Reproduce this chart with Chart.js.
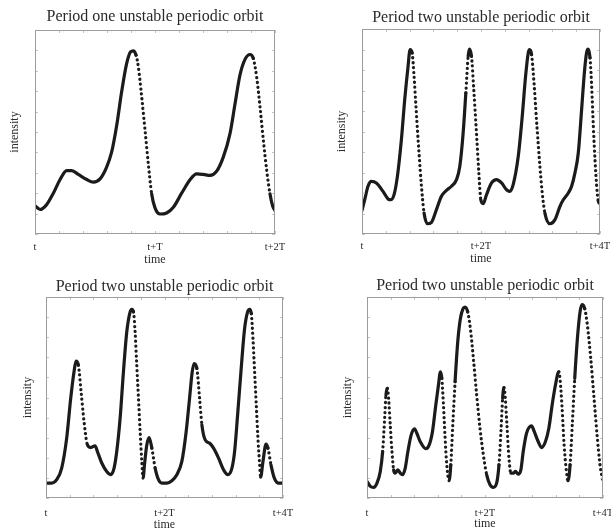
<!DOCTYPE html>
<html>
<head>
<meta charset="utf-8">
<script src="https://cdn.jsdelivr.net/npm/chart.js@4"></script>
<style>
  html, body { margin: 0; padding: 0; background: #fff; }
  #wrap { position: relative; width: 611px; height: 531px; overflow: hidden; }
  #wrap canvas { position: absolute; left: 0; top: 0; }
</style>
</head>
<body>
<div id="wrap">
  <canvas id="c1" width="611" height="531"></canvas>
  <canvas id="c2" width="611" height="531"></canvas>
  <canvas id="c3" width="611" height="531"></canvas>
  <canvas id="c4" width="611" height="531"></canvas>
</div>
<script>
// ---- data (time in units of T, intensity 0..1 of the frame height) ----
const titles = [
  'Period one unstable periodic orbit',
  'Period two unstable periodic orbit',
  'Period two unstable periodic orbit',
  'Period two unstable periodic orbit'
];
const xTitle = 'time';
const yTitle = 'intensity';
const tickLabels1 = { 0: 't', 1: 't+T', 2: 't+2T' };
const tickLabels2 = { 0: 't', 2: 't+2T', 4: 't+4T' };

const p1Time = [0.000, 0.042, 0.097, 0.153, 0.208, 0.264, 0.306, 0.361, 0.431, 0.486, 0.542, 0.597, 0.639, 0.681, 0.722, 0.764, 0.797, 0.819, 0.842, 0.861, 0.889, 0.917, 0.944, 0.972, 1.000, 1.042, 1.097, 1.153, 1.222, 1.292, 1.347, 1.403, 1.458, 1.514, 1.569, 1.625, 1.667, 1.708, 1.750, 1.792, 1.819, 1.847, 1.875, 1.903, 1.931, 1.958, 1.981, 2.000];
const p1Level = [0.139, 0.120, 0.144, 0.200, 0.266, 0.311, 0.311, 0.292, 0.267, 0.254, 0.270, 0.328, 0.402, 0.533, 0.697, 0.836, 0.893, 0.898, 0.877, 0.820, 0.672, 0.508, 0.344, 0.197, 0.128, 0.098, 0.103, 0.131, 0.200, 0.266, 0.295, 0.292, 0.287, 0.308, 0.377, 0.492, 0.639, 0.779, 0.856, 0.880, 0.861, 0.770, 0.623, 0.459, 0.311, 0.197, 0.136, 0.115];

const p2Time = [0.000, 0.045, 0.101, 0.157, 0.241, 0.353, 0.438, 0.482, 0.539, 0.595, 0.662, 0.718, 0.774, 0.808, 0.842, 0.875, 0.914, 0.954, 0.999, 1.043, 1.100, 1.167, 1.251, 1.335, 1.419, 1.504, 1.588, 1.644, 1.700, 1.745, 1.784, 1.806, 1.840, 1.879, 1.924, 1.964, 1.997, 2.036, 2.093, 2.177, 2.261, 2.345, 2.429, 2.485, 2.541, 2.626, 2.693, 2.749, 2.794, 2.816, 2.850, 2.895, 2.940, 2.990, 3.029, 3.074, 3.158, 3.243, 3.327, 3.383, 3.467, 3.523, 3.579, 3.635, 3.691, 3.747, 3.792, 3.832, 3.860, 3.888, 3.916, 3.944, 3.972, 4.000];
const p2Level = [0.115, 0.167, 0.233, 0.257, 0.249, 0.208, 0.171, 0.167, 0.192, 0.281, 0.460, 0.655, 0.818, 0.899, 0.883, 0.769, 0.590, 0.411, 0.233, 0.102, 0.050, 0.057, 0.119, 0.184, 0.213, 0.233, 0.265, 0.330, 0.493, 0.688, 0.867, 0.902, 0.867, 0.704, 0.493, 0.298, 0.167, 0.148, 0.192, 0.249, 0.265, 0.249, 0.216, 0.208, 0.241, 0.379, 0.574, 0.769, 0.883, 0.899, 0.875, 0.720, 0.525, 0.330, 0.200, 0.102, 0.050, 0.070, 0.135, 0.167, 0.200, 0.233, 0.298, 0.395, 0.607, 0.818, 0.902, 0.859, 0.720, 0.525, 0.363, 0.233, 0.159, 0.148];

const p3Time = [0.000, 0.096, 0.180, 0.265, 0.349, 0.417, 0.473, 0.507, 0.546, 0.592, 0.642, 0.699, 0.755, 0.828, 0.868, 0.941, 1.025, 1.093, 1.149, 1.194, 1.251, 1.307, 1.363, 1.420, 1.448, 1.476, 1.504, 1.532, 1.561, 1.589, 1.617, 1.639, 1.662, 1.701, 1.741, 1.786, 1.842, 1.899, 1.955, 2.039, 2.124, 2.208, 2.293, 2.366, 2.423, 2.468, 2.501, 2.546, 2.592, 2.631, 2.687, 2.761, 2.828, 2.913, 2.997, 3.070, 3.138, 3.183, 3.234, 3.290, 3.352, 3.403, 3.437, 3.465, 3.493, 3.521, 3.549, 3.577, 3.606, 3.623, 3.662, 3.713, 3.746, 3.797, 3.854, 3.927, 4.000];
const p3Level = [0.074, 0.074, 0.091, 0.149, 0.298, 0.496, 0.628, 0.681, 0.661, 0.529, 0.380, 0.264, 0.251, 0.260, 0.231, 0.174, 0.132, 0.116, 0.149, 0.231, 0.397, 0.628, 0.826, 0.926, 0.939, 0.926, 0.826, 0.661, 0.496, 0.331, 0.182, 0.099, 0.165, 0.264, 0.301, 0.248, 0.149, 0.091, 0.074, 0.074, 0.086, 0.116, 0.182, 0.331, 0.496, 0.628, 0.669, 0.645, 0.496, 0.364, 0.289, 0.273, 0.248, 0.198, 0.140, 0.116, 0.149, 0.231, 0.413, 0.628, 0.843, 0.926, 0.939, 0.917, 0.793, 0.628, 0.463, 0.298, 0.165, 0.104, 0.182, 0.268, 0.248, 0.165, 0.099, 0.074, 0.074];

const p4Time = [0.000, 0.056, 0.113, 0.169, 0.225, 0.265, 0.299, 0.321, 0.344, 0.366, 0.394, 0.423, 0.451, 0.479, 0.524, 0.563, 0.603, 0.648, 0.693, 0.749, 0.806, 0.845, 0.901, 0.997, 1.054, 1.110, 1.166, 1.211, 1.245, 1.268, 1.296, 1.324, 1.352, 1.392, 1.420, 1.454, 1.493, 1.538, 1.583, 1.628, 1.662, 1.707, 1.752, 1.803, 1.859, 1.915, 1.972, 2.028, 2.085, 2.141, 2.197, 2.237, 2.270, 2.299, 2.321, 2.344, 2.372, 2.406, 2.439, 2.479, 2.518, 2.563, 2.608, 2.648, 2.704, 2.789, 2.834, 2.901, 2.958, 3.025, 3.082, 3.138, 3.194, 3.251, 3.273, 3.307, 3.341, 3.380, 3.408, 3.442, 3.482, 3.521, 3.566, 3.611, 3.645, 3.690, 3.735, 3.792, 3.848, 3.904, 3.949, 4.000];
const p4Level = [0.083, 0.058, 0.053, 0.074, 0.132, 0.231, 0.397, 0.512, 0.545, 0.496, 0.364, 0.231, 0.140, 0.124, 0.140, 0.124, 0.116, 0.149, 0.231, 0.314, 0.344, 0.322, 0.281, 0.245, 0.264, 0.331, 0.463, 0.562, 0.628, 0.595, 0.463, 0.298, 0.165, 0.086, 0.165, 0.364, 0.579, 0.777, 0.893, 0.942, 0.950, 0.926, 0.843, 0.694, 0.512, 0.347, 0.215, 0.116, 0.066, 0.053, 0.074, 0.165, 0.331, 0.496, 0.549, 0.496, 0.364, 0.198, 0.124, 0.124, 0.132, 0.119, 0.140, 0.231, 0.322, 0.359, 0.331, 0.281, 0.251, 0.281, 0.347, 0.463, 0.562, 0.628, 0.587, 0.446, 0.264, 0.132, 0.086, 0.165, 0.380, 0.595, 0.793, 0.926, 0.962, 0.942, 0.860, 0.694, 0.496, 0.298, 0.165, 0.083];

// ---- layout of each panel on the page (pixels) ----
const panels = [
  { id: 'c1', time: p1Time, level: p1Level, span: 2, step: 0.2, labels: tickLabels1,
    box: { l: 35, r: 275, t: 30, b: 234 }, titleY: 17, tickY: 247, timeY: 260, yLabelX: 15 },
  { id: 'c2', time: p2Time, level: p2Level, span: 4, step: 0.4, labels: tickLabels2,
    box: { l: 362, r: 600, t: 29, b: 234 }, titleY: 18, tickY: 246, timeY: 259, yLabelX: 342 },
  { id: 'c3', time: p3Time, level: p3Level, span: 4, step: 0.4, labels: tickLabels2,
    box: { l: 46, r: 283, t: 297, b: 498 }, titleY: 287, tickY: 513, timeY: 525, yLabelX: 28 },
  { id: 'c4', time: p4Time, level: p4Level, span: 4, step: 0.4, labels: tickLabels2,
    box: { l: 367, r: 603, t: 297, b: 498 }, titleY: 286, tickY: 513, timeY: 524, yLabelX: 348 }
];

const W = 611, H = 531;
const SERIF = '"Liberation Serif", "DejaVu Serif", serif';
const TEXT = '#2a2a2a';
const TITLE_SIZE = 16, TICK_SIZE = 10.5, AXIS_SIZE = 12;

// frame round the plot with small inward ticks on all four sides
const frameTicks = {
  id: 'frameTicks',
  afterDatasetsDraw(chart) {
    const { ctx, chartArea: a, scales: { x, y } } = chart;
    ctx.save();
    ctx.strokeStyle = '#c4c4c4';
    ctx.lineWidth = 1;
    ctx.beginPath();
    x.ticks.forEach(t => {
      const px = Math.round(x.getPixelForValue(t.value)) + 0.5;
      ctx.moveTo(px, a.bottom); ctx.lineTo(px, a.bottom - 3);
      ctx.moveTo(px, a.top); ctx.lineTo(px, a.top + 3);
    });
    y.ticks.forEach(t => {
      const py = Math.round(y.getPixelForValue(t.value)) + 0.5;
      ctx.moveTo(a.left, py); ctx.lineTo(a.left + 3, py);
      ctx.moveTo(a.right, py); ctx.lineTo(a.right - 3, py);
    });
    ctx.stroke();
    ctx.strokeStyle = '#9c9c9c';
    ctx.strokeRect(Math.round(a.left) + 0.5, Math.round(a.top) + 0.5,
                   Math.round(a.width) - 1, Math.round(a.height) - 1);
    ctx.restore();
  }
};

panels.forEach((p, i) => {
  const b = p.box;
  const yW = b.l - p.yLabelX + AXIS_SIZE * 0.6;
  const xH = p.timeY - b.b + AXIS_SIZE * 0.6;
  const points = p.time.map((t, k) => ({ x: t, y: p.level[k] }));

  new Chart(document.getElementById(p.id), {
    type: 'line',
    data: {
      datasets: [{
        data: points,
        borderColor: '#1b1b1b',
        borderWidth: 3.2,
        borderCapStyle: 'round',
        borderJoinStyle: 'round',
        cubicInterpolationMode: 'monotone',
        pointRadius: 0,
        segment: {
          // fast stretches show up as separated dots in the original
          borderDash: c => {
            const dx = Math.abs(c.p1.x - c.p0.x) || 0.01;
            const dy = c.p1.y - c.p0.y;
            const s = Math.abs(dy) / dx;
            return (dy > 0 && s > 5) || s > 15 ? [0.1, 4.8] : undefined;
          }
        }
      }]
    },
    options: {
      responsive: false,
      animation: false,
      events: [],
      layout: {
        padding: {
          left: b.l - yW,
          right: W - b.r,
          top: p.titleY - TITLE_SIZE * 0.6,
          bottom: H - b.b - xH
        }
      },
      plugins: {
        legend: { display: false },
        tooltip: { enabled: false },
        title: {
          display: true,
          text: titles[i],
          fullSize: false,
          color: TEXT,
          font: { family: SERIF, size: TITLE_SIZE, weight: 'normal' },
          padding: { top: 0, bottom: b.t - p.titleY - TITLE_SIZE * 0.6 }
        }
      },
      scales: {
        x: {
          type: 'linear',
          min: 0,
          max: p.span,
          grid: { display: false, drawTicks: false },
          border: { display: false },
          ticks: {
            stepSize: p.step,
            autoSkip: false,
            maxRotation: 0,
            padding: p.tickY - b.b - TICK_SIZE * 0.6,
            color: TEXT,
            font: { family: SERIF, size: TICK_SIZE },
            callback: v => {
              const r = Math.round(v);
              return Math.abs(v - r) < 1e-6 && p.labels[r] !== undefined ? p.labels[r] : '';
            }
          },
          title: {
            display: true,
            text: xTitle,
            color: TEXT,
            font: { family: SERIF, size: AXIS_SIZE },
            padding: 0
          },
          afterFit: s => { s.height = xH; s.paddingLeft = 0; s.paddingRight = 0; }
        },
        y: {
          min: 0,
          max: 1,
          grid: { display: false, drawTicks: false },
          border: { display: false },
          ticks: { display: false, stepSize: 0.1 },
          title: {
            display: true,
            text: yTitle,
            color: TEXT,
            font: { family: SERIF, size: AXIS_SIZE },
            padding: 0
          },
          afterFit: s => { s.width = yW; s.paddingTop = 0; s.paddingBottom = 0; }
        }
      }
    },
    plugins: [frameTicks]
  });
});
</script>
</body>
</html>
